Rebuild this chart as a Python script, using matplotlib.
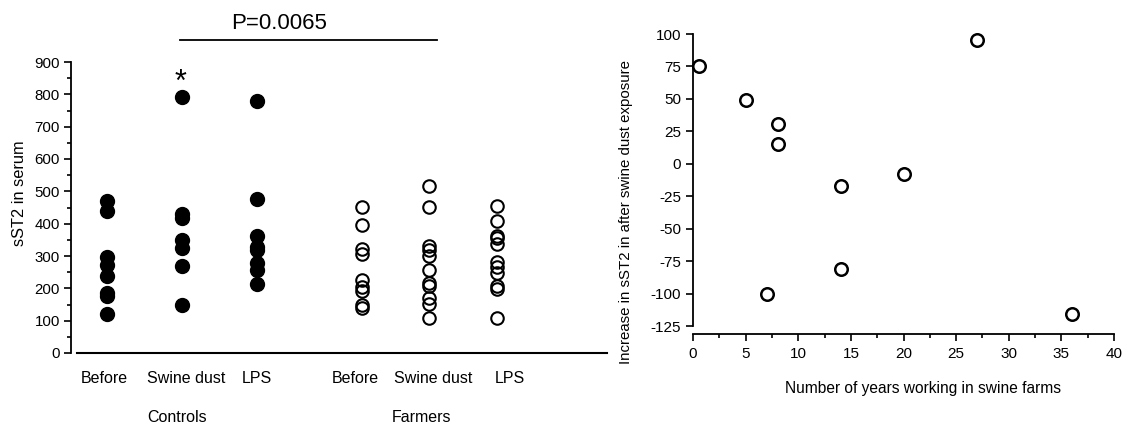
import matplotlib
matplotlib.use("Agg")
import matplotlib.pyplot as plt
from matplotlib.ticker import MultipleLocator

plt.rcParams["font.family"] = ["Liberation Sans", "DejaVu Sans"]
plt.rcParams["axes.unicode_minus"] = False

# left panel: sST2 in serum per group
groups = ["Controls", "Farmers"]
conditions = ["Before", "Swine dust", "LPS"]
ctrl_before = [470, 440, 298, 272, 238, 186, 176, 121]
ctrl_swine = [792, 431, 416, 349, 325, 268, 150]
ctrl_lps = [779, 476, 362, 328, 318, 277, 258, 213]
farm_before = [452, 396, 321, 306, 226, 205, 193, 148, 138]
farm_swine = [517, 451, 330, 320, 301, 256, 216, 207, 169, 153, 107]
farm_lps = [456, 408, 362, 356, 338, 282, 267, 246, 208, 197, 108]
p_text = "P=0.0065"

# right panel: change vs years in farming
years = [0.6, 5.0, 7.0, 8.1, 8.1, 14.1, 14.1, 20.0, 27.0, 36.0]
increase = [75, 49, -100, 31, 15, -17, -81, -8, 95, -116]

W, H = 1144, 428
fig = plt.figure(figsize=(W / 100, H / 100), dpi=100)

def px_axes(x0, y_top, x1, y_bot):
    return fig.add_axes([x0 / W, 1 - y_bot / H, (x1 - x0) / W, (y_bot - y_top) / H])

# ---- left panel
ax = px_axes(71, 62, 607, 353)
pos = [1, 2, 3, 4.4, 5.3, 6.2]
label_pos = [0.97, 2.06, 3.0, 4.31, 5.35, 6.37]
series = [ctrl_before, ctrl_swine, ctrl_lps, farm_before, farm_swine, farm_lps]
for i, (p, vals) in enumerate(zip(pos, series)):
    if i < 3:
        ax.plot([p] * len(vals), vals, "o", ms=10, color="black", clip_on=False)
    else:
        ax.plot([p] * len(vals), vals, "o", ms=9, mfc="none", mec="black", mew=1.5, clip_on=False)

ax.set_xlim(0.52, 7.667)
ax.set_ylim(0, 900)
ax.yaxis.set_major_locator(MultipleLocator(100))
ax.yaxis.set_minor_locator(MultipleLocator(50))
ax.tick_params(axis="y", which="major", direction="out", length=5, width=1.2, labelsize=10.8, pad=3)
ax.tick_params(axis="y", which="minor", direction="out", length=3, width=1.2)
for s in ["top", "right", "bottom"]:
    ax.spines[s].set_visible(False)
ax.spines["left"].set_linewidth(1.3)
ax.axhline(0, xmin=6 / 536, xmax=1, color="black", lw=1.5, clip_on=False)
ax.set_xticks(label_pos)
ax.set_xticklabels(conditions * 2, fontsize=11.5)
ax.tick_params(axis="x", length=0, pad=13)
ax.set_ylabel("sST2 in serum", fontsize=11.8)
ax.yaxis.set_label_coords(-0.083, 0.55)

ax.text(1.93, -200, groups[0], ha="center", va="center", fontsize=11.5, clip_on=False)
ax.text(5.19, -200, groups[1], ha="center", va="center", fontsize=11.5, clip_on=False)

ax.plot([pos[1] - 0.03, pos[4] + 0.1], [968, 968], color="black", lw=1.3, clip_on=False)
ax.text(3.29, 1018, p_text, ha="center", va="center", fontsize=16, clip_on=False)
ax.text(pos[1] - 0.02, 811, "*", ha="center", va="baseline", fontsize=22, clip_on=False)

# ---- right panel
ax2 = px_axes(693, 34, 1114, 326)
ax2.plot(years, increase, "o", ms=9, mfc="none", mec="black", mew=1.8, clip_on=False)
ax2.set_xlim(0, 40)
ax2.set_ylim(-125, 100)
ax2.yaxis.set_major_locator(MultipleLocator(25))
ax2.xaxis.set_major_locator(MultipleLocator(5))
ax2.xaxis.set_minor_locator(MultipleLocator(2.5))
for s in ["top", "right"]:
    ax2.spines[s].set_visible(False)
ax2.spines["bottom"].set_position(("outward", 6))
ax2.spines["left"].set_linewidth(1.3)
ax2.spines["bottom"].set_linewidth(1.3)
ax2.tick_params(which="major", direction="out", length=5, width=1.2, labelsize=11)
ax2.tick_params(which="minor", direction="out", length=3, width=1.2)
ax2.tick_params(axis="x", pad=4)
ax2.set_xlabel("Number of years working in swine farms", fontsize=11.2)
ax2.xaxis.set_label_coords(0.546, -0.19)
ax2.set_ylabel("Increase in sST2 in after swine dust exposure", fontsize=10.8)
ax2.yaxis.set_label_coords(-0.1425, 0.389)

fig.savefig("out.png", dpi=100)
